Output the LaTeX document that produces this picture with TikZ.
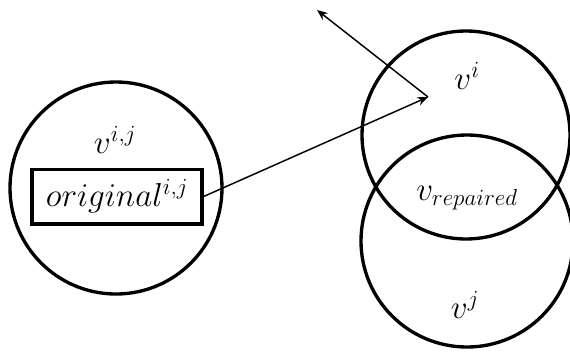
\documentclass[tikz,border=0pt]{standalone}
\usetikzlibrary{arrows.meta}
\begin{document}
\begin{tikzpicture}[x=0.75pt,y=-0.75pt,
  setc/.style={circle,draw,line width=2.5pt,inner sep=0pt},
  lbl/.style={font=\fontsize{25}{30}\selectfont,inner sep=0pt},
  arr/.style={line width=1.1pt,-{Stealth[length=8pt,width=6.5pt]}}]
\useasboundingbox (0,0) rectangle (570,351);
\node[setc,minimum size=159pt] (L) at (116,188) {};
\node[setc,minimum size=156pt] (U) at (466,135) {};
\node[setc,minimum size=159pt] (D) at (467,241) {};
\node[draw,line width=2.5pt,minimum width=127.5pt,minimum height=41pt,inner sep=0pt,font=\fontsize{25}{30}\selectfont] (R) at (117,196.5) {$original^{i,j}$};
\node[lbl] (lij) at (115,140) {$v^{i,j}$};
\node[lbl] (li) at (467,76) {$v^{i}$};
\node[lbl] (lr) at (467,198) {$v_{repaired}$};
\node[lbl] (lj) at (465,305) {$v^{j}$};
\coordinate (P) at (428,97);
\coordinate (Q) at (317,10);
\draw[arr] (R.east) -- (P);
\draw[arr] (P) -- (Q);
\end{tikzpicture}
\end{document}
